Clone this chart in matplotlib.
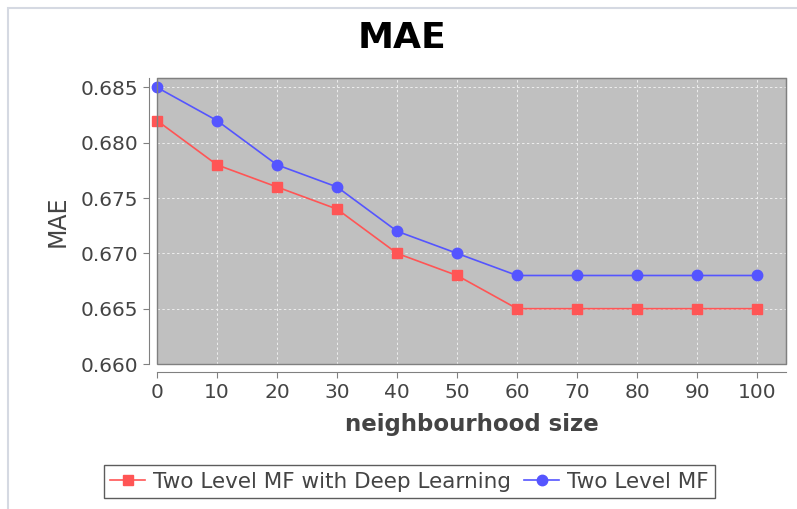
import matplotlib
matplotlib.use("Agg")
import matplotlib.pyplot as plt
from matplotlib.patches import Rectangle
from matplotlib.lines import Line2D

neighbourhood = [0, 10, 20, 30, 40, 50, 60, 70, 80, 90, 100]
mae_deep = [0.682, 0.678, 0.676, 0.674, 0.670, 0.668, 0.665, 0.665, 0.665, 0.665, 0.665]
mae_two = [0.685, 0.682, 0.678, 0.676, 0.672, 0.670, 0.668, 0.668, 0.668, 0.668, 0.668]
label_deep = "Two Level MF with Deep Learning"
label_two = "Two Level MF"
yticks = [0.660, 0.665, 0.670, 0.675, 0.680, 0.685]
xticks = [0, 10, 20, 30, 40, 50, 60, 70, 80, 90, 100]

fig = plt.figure(figsize=(7.97, 5.09), dpi=100)
fig.patch.set_facecolor("white")
# outer light border
fig.add_artist(Rectangle((8/797, -0.1), 1.2, 1 - 8/509 + 0.1, transform=fig.transFigure,
                         fill=False, edgecolor="#D5D9E2", linewidth=1.5))

ax = fig.add_axes([157/797, 1 - 364/509, (786-157)/797, (364-78)/509])
ax.set_facecolor("#C0C0C0")
ax.plot(neighbourhood, mae_deep, color="#FF5555", marker="s", markersize=7.5, linewidth=1.2,
        label=label_deep, zorder=3, clip_on=False)
ax.plot(neighbourhood, mae_two, color="#5555FF", marker="o", markersize=7.5, linewidth=1.2,
        label=label_two, zorder=4, clip_on=False)

ax.set_xlim(0, 104.8)
ax.set_ylim(0.660, 0.68585)
ax.set_xticks(xticks)
ax.set_yticks(yticks)
ax.set_yticklabels([f"{v:.3f}" for v in yticks])
ax.grid(True, color="#EEEEEE", linestyle=(0, (2.5, 2.5)), linewidth=0.7)
ax.set_axisbelow(True)

for s in ["top", "right"]:
    ax.spines[s].set_color("#808080")
for s in ["left", "bottom"]:
    ax.spines[s].set_position(("outward", 6))
    ax.spines[s].set_color("#808080")
ax.add_patch(Rectangle((0, 0), 1, 1, transform=ax.transAxes, fill=False,
                       edgecolor="#808080", linewidth=1.0, zorder=5, clip_on=False))

ax.tick_params(axis="both", colors="#808080", labelcolor="#444444", labelsize=14.5,
               direction="out", length=4)

ax.set_xlabel("neighbourhood size", fontsize=16.5, color="#444444", fontweight="bold", labelpad=8)
ax.set_ylabel("MAE", fontsize=17, color="#444444", labelpad=8)
fig.text(0.505, 0.925, "MAE", fontsize=26, fontweight="bold", ha="center", va="center")

handles = [Line2D([], [], color="#FF5555", marker="s", markersize=7.5, linewidth=1.2),
           Line2D([], [], color="#5555FF", marker="o", markersize=7.5, linewidth=1.2)]
leg = fig.legend(handles, [label_deep, label_two], loc="lower center",
                 bbox_to_anchor=(0.514, 0.0), ncol=2, frameon=True, fancybox=False,
                 fontsize=15.5, handlelength=1.6, handletextpad=0.4, columnspacing=0.6,
                 borderpad=0.3, labelcolor="#444444")
leg.get_frame().set_edgecolor("#333333")
leg.get_frame().set_linewidth(1.0)

fig.savefig("out.png", dpi=100, facecolor="white")
